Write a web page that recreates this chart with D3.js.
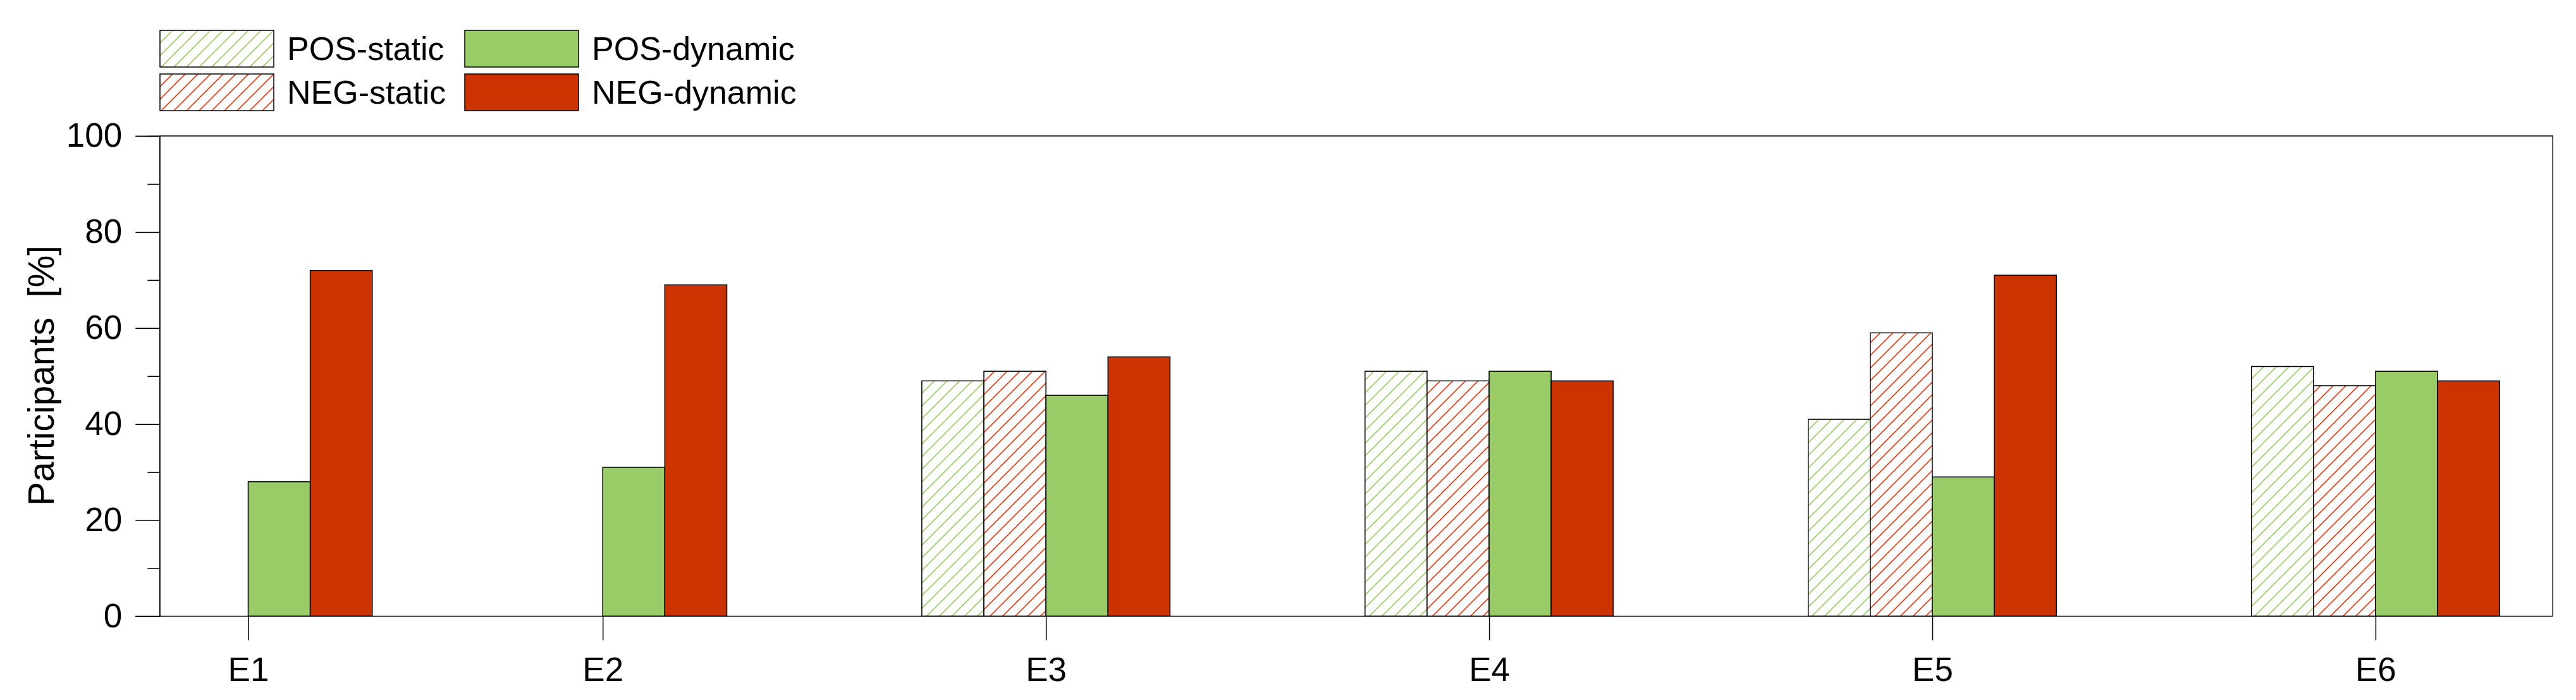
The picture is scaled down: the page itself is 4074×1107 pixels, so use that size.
<!DOCTYPE html>
<html>
<head>
<meta charset="utf-8">
<script src="https://cdn.jsdelivr.net/npm/d3@7"></script>
<style>
  html, body { margin: 0; padding: 0; background: #fff; }
  svg { display: block; }
  text { font-family: "Liberation Sans", Arial, sans-serif; fill: #000; }
</style>
</head>
<body>
<svg id="chart" width="4074" height="1107"></svg>
<script>
// ---- data ----
const categories = ["E1", "E2", "E3", "E4", "E5", "E6"];
const categoryX = [1.2, 2, 3, 4, 5, 6];           // positions on the numeric x axis
const seriesNames = ["POS-static", "NEG-static", "POS-dynamic", "NEG-dynamic"];
const posStatic  = [null, null, 49, 51, 41, 52];
const negStatic  = [null, null, 51, 49, 59, 48];
const posDynamic = [28, 31, 46, 51, 29, 51];
const negDynamic = [72, 69, 54, 49, 71, 49];
const yTicks = [0, 20, 40, 60, 80, 100];
const yMinorTicks = [10, 30, 50, 70, 90];
const legendOrder = ["POS-static", "POS-dynamic", "NEG-static", "NEG-dynamic"];

const seriesValues = [posStatic, negStatic, posDynamic, negDynamic];

// ---- layout ----
const svg = d3.select("#chart");
const L = 252.3, R = 4037.3, T = 215, B = 974.5;
const x = d3.scaleLinear().domain([1, 6.4]).range([L, R]);
const y = d3.scaleLinear().domain([0, 100]).range([B, T]);
const barW = 0.14; // in x units

const fills = {
  "POS-static": "url(#hatchGreen)",
  "NEG-static": "url(#hatchRed)",
  "POS-dynamic": "#99CC66",
  "NEG-dynamic": "#CC3300"
};

// patterns
const defs = svg.append("defs");
function hatch(id, color) {
  const p = defs.append("pattern").attr("id", id)
    .attr("patternUnits", "userSpaceOnUse").attr("width", 20).attr("height", 20);
  p.append("rect").attr("width", 20).attr("height", 20).attr("fill", "#fff");
  p.append("path").attr("d", "M-5,5 L5,-5 M0,20 L20,0 M15,25 L25,15")
    .attr("stroke", color).attr("stroke-width", 1.6).attr("fill", "none");
}
hatch("hatchGreen", "#9ACD66");
hatch("hatchRed", "#E0401A");

// frame (top & right)
svg.append("path")
  .attr("d", `M${L},${T} H${R} V${B}`)
  .attr("fill", "none").attr("stroke", "#000").attr("stroke-width", 1.5);

// bars
const bars = [];
categories.forEach((c, i) => {
  seriesNames.forEach((s, j) => {
    const v = seriesValues[j][i];
    if (v == null) return;
    bars.push({ c, s, j, v, cx: categoryX[i] });
  });
});
svg.append("g").selectAll("rect").data(bars).join("rect")
  .attr("x", d => x(d.cx + (d.j - 2) * barW))
  .attr("width", d => x(d.cx + (d.j - 1) * barW) - x(d.cx + (d.j - 2) * barW))
  .attr("y", d => y(d.v))
  .attr("height", d => y(0) - y(d.v))
  .attr("fill", d => fills[d.s])
  .attr("stroke", "#000").attr("stroke-width", 1.5);

// y axis
const yAxis = svg.append("g").attr("transform", `translate(${L},0)`)
  .call(d3.axisLeft(y).tickValues(yTicks).tickSize(38).tickPadding(21).tickFormat(d3.format("d")));
const yMinor = svg.append("g").attr("transform", `translate(${L},0)`)
  .call(d3.axisLeft(y).tickValues(yMinorTicks).tickSize(19).tickFormat(""));
[yAxis, yMinor].forEach(g => {
  g.select(".domain").attr("stroke", "#000").attr("stroke-width", 1.5);
  g.selectAll(".tick line").attr("stroke", "#000").attr("stroke-width", 1.5);
});
yAxis.selectAll(".tick text").attr("font-size", 53).attr("font-family", "Liberation Sans, Arial, sans-serif");

// x axis
const xAxis = svg.append("g").attr("transform", `translate(0,${B})`)
  .call(d3.axisBottom(x).tickValues(categoryX).tickSize(38).tickPadding(27)
    .tickFormat((d, i) => categories[i]));
xAxis.select(".domain").attr("d", `M${L - 38},0 H${R}`).attr("stroke", "#000").attr("stroke-width", 1.5);
xAxis.selectAll(".tick line").attr("stroke", "#000").attr("stroke-width", 1.5);
xAxis.selectAll(".tick text").attr("font-size", 53).attr("font-family", "Liberation Sans, Arial, sans-serif");

// y title
svg.append("text")
  .attr("transform", `translate(85,594) rotate(-90)`)
  .attr("text-anchor", "middle")
  .attr("font-size", 57)
  .style("white-space", "pre")
  .text("Participants  [%]");

// legend
const legPos = {
  "POS-static": [253, 48], "POS-dynamic": [735, 48],
  "NEG-static": [253, 117], "NEG-dynamic": [735, 117]
};
const lg = svg.append("g").selectAll("g").data(legendOrder).join("g")
  .attr("transform", d => `translate(${legPos[d][0]},${legPos[d][1]})`);
lg.append("rect").attr("width", 180).attr("height", 58)
  .attr("fill", d => fills[d]).attr("stroke", "#000").attr("stroke-width", 1.5);
lg.append("text").attr("x", 201).attr("y", 29).attr("dy", "0.35em")
  .attr("font-size", 52).text(d => d);
</script>
</body>
</html>
